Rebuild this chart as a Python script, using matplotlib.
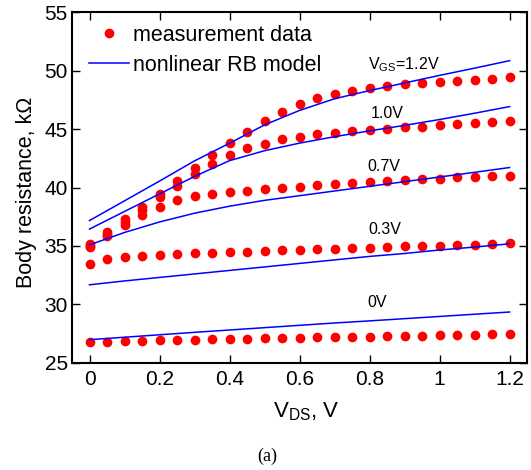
import numpy as np
import matplotlib
matplotlib.use("Agg")
import matplotlib.pyplot as plt

plt.rcParams['font.family'] = ['Liberation Sans', 'DejaVu Sans']
plt.rcParams['mathtext.fontset'] = 'custom'
plt.rcParams['mathtext.rm'] = 'Liberation Sans'

# measured body resistance (kOhm) vs V_DS for each V_GS
vds_meas = [0.0, 0.05, 0.1, 0.15, 0.2, 0.25, 0.3, 0.35, 0.4, 0.45, 0.5, 0.55, 0.6,
            0.65, 0.7, 0.75, 0.8, 0.85, 0.9, 0.95, 1.0, 1.05, 1.1, 1.15, 1.2]
meas_0v = [26.77, 26.78, 26.82, 26.86, 26.91, 26.95, 26.98, 27.01, 27.04, 27.07, 27.10, 27.12, 27.15,
           27.17, 27.20, 27.22, 27.24, 27.27, 27.29, 27.31, 27.33, 27.36, 27.39, 27.42, 27.46]
meas_03v = [33.47, 33.87, 34.05, 34.15, 34.22, 34.29, 34.35, 34.40, 34.44, 34.49, 34.55, 34.61, 34.66,
            34.72, 34.75, 34.80, 34.85, 34.91, 34.95, 35.00, 35.03, 35.08, 35.12, 35.15, 35.21]
meas_07v = [34.90, 35.85, 36.80, 37.63, 38.37, 38.94, 39.29, 39.46, 39.65, 39.74, 39.86, 40.00, 40.08,
            40.20, 40.29, 40.37, 40.46, 40.57, 40.65, 40.71, 40.76, 40.86, 40.91, 40.95, 41.00]
meas_10v = [35.00, 36.00, 37.04, 38.09, 39.17, 40.17, 41.14, 42.02, 42.79, 43.42, 43.71, 44.14, 44.36,
            44.59, 44.70, 44.82, 44.93, 45.04, 45.15, 45.21, 45.36, 45.44, 45.56, 45.64, 45.73]
meas_12v = [35.15, 36.20, 37.32, 38.37, 39.46, 40.57, 41.66, 42.79, 43.79, 44.76, 45.73, 46.50, 47.16,
            47.70, 48.04, 48.30, 48.50, 48.72, 48.85, 48.92, 49.06, 49.15, 49.21, 49.32, 49.49]

# nonlinear RB model curves
vds_model = [0.0, 0.1, 0.2, 0.3, 0.4, 0.5, 0.6, 0.7, 0.8, 0.9, 1.0, 1.1, 1.2]
model_0v = [26.97, 27.18, 27.39, 27.60, 27.80, 28.00, 28.20, 28.40, 28.58, 28.77, 28.96, 29.15, 29.34]
model_03v = [31.67, 32.00, 32.30, 32.60, 32.90, 33.20, 33.50, 33.80, 34.10, 34.35, 34.65, 34.90, 35.18]
model_07v = [35.09, 36.15, 37.05, 37.80, 38.40, 38.90, 39.30, 39.70, 40.10, 40.50, 40.90, 41.30, 41.71]
model_10v = [36.44, 37.95, 39.45, 40.95, 42.30, 43.15, 43.80, 44.35, 44.85, 45.32, 45.82, 46.36, 46.93]
model_12v = [37.17, 38.86, 40.55, 42.28, 43.79, 45.36, 46.60, 47.60, 48.30, 48.95, 49.60, 50.22, 50.86]

curve_labels = ['0V', '0.3V', '0.7V', '1.0V', r'V$_{\mathregular{GS}}$=1.2V']
label_x = [0.795, 0.798, 0.795, 0.803, 0.797]
label_y = [29.73, 36.03, 41.45, 45.93, 50.15]

xticks = [0, 0.2, 0.4, 0.6, 0.8, 1.0, 1.2]
xtick_labels = ['0', '0.2', '0.4', '0.6', '0.8', '1', '1.2']
yticks = [25, 30, 35, 40, 45, 50, 55]

fig = plt.figure(figsize=(5.31, 4.70), dpi=100)
ax = fig.add_axes([0.1356, 0.2283, 0.857, 0.7455])

meas = [meas_0v, meas_03v, meas_07v, meas_10v, meas_12v]
model = [model_0v, model_03v, model_07v, model_10v, model_12v]

for i in range(len(meas)):
    ax.plot(vds_meas, meas[i], 'o', color='#ff0000', markersize=7, markeredgewidth=0,
            label='measurement data' if i == 0 else None, zorder=2)
for i in range(len(model)):
    ax.plot(vds_model, model[i], '-', color='#0000ff', linewidth=1.1,
            label='nonlinear RB model' if i == 0 else None, zorder=3)

for txt, lx, ly in zip(curve_labels, label_x, label_y):
    ax.text(lx, ly, txt, fontsize=11.5, ha='left', va='baseline')

ax.set_xlim(-0.05, 1.25)
ax.set_ylim(25, 55)
ax.set_xticks(xticks)
ax.set_xticklabels(xtick_labels)
ax.set_yticks(yticks)
ax.tick_params(direction='in', top=True, right=True, length=6, width=1, labelsize=15)
ax.tick_params(axis='y', pad=3)
ax.tick_params(axis='x', pad=5)
for sp in ax.spines.values():
    sp.set_linewidth(1.5)

ax.set_xlabel(r'V$_{\mathregular{DS}}$, V', fontsize=16)
ax.xaxis.set_label_coords(0.514, -0.108)
ax.set_ylabel('Body resistance, k\u03a9', fontsize=15.5)
ax.yaxis.set_label_coords(-0.077, 0.487)

ax.legend(loc='upper left', bbox_to_anchor=(0.0374, 0.964), frameon=False,
          fontsize=15.5, numpoints=1, handlelength=1.86, handletextpad=0.19,
          labelspacing=0.42, borderpad=0, borderaxespad=0)

fig.text(0.503, 0.028, '(a)', fontsize=13, family='Liberation Serif', ha='center', va='center')

fig.savefig('out.png', dpi=100)
